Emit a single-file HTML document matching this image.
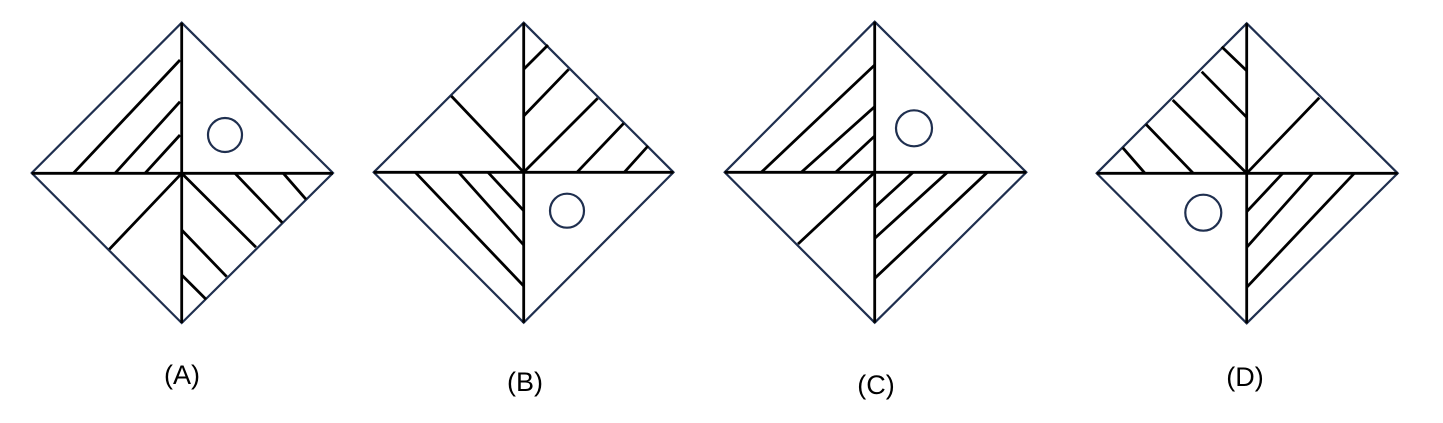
<!DOCTYPE html>
<html><head><style>html,body{margin:0;padding:0;background:#fff;}svg{display:block}</style></head><body>
<svg width="1443" height="423" viewBox="0 0 1443 423" xmlns="http://www.w3.org/2000/svg">
<g fill="none" stroke="#1f2f4f" stroke-width="2.2">
<polygon points="181.7,22.7 333,173 181.7,323 31.7,173"/>
<polygon points="523.7,22.7 673.5,172.3 523.7,322.7 373.7,172.3"/>
<polygon points="874.7,21.7 1026.3,172.3 874.7,322.7 724.7,172.3"/>
<polygon points="1246.7,23.3 1397.7,173.3 1246.7,323.3 1096.7,173.3"/>
<circle cx="225" cy="135" r="17"/>
<circle cx="567" cy="210.7" r="17"/>
<circle cx="914" cy="128.3" r="18"/>
<circle cx="1203.3" cy="212.7" r="18"/>
</g>
<g stroke="#000" stroke-width="2.8" fill="none">
<line x1="181.7" y1="22.7" x2="181.7" y2="323"/><line x1="31.7" y1="173.3" x2="333" y2="173.3"/>
<line x1="73.3" y1="173.3" x2="180" y2="60"/>
<line x1="115" y1="173.3" x2="180" y2="101.7"/>
<line x1="145" y1="173.3" x2="180" y2="135"/>
<line x1="181.7" y1="173.3" x2="109.3" y2="249.3"/>
<line x1="181.7" y1="173.3" x2="256" y2="247.3"/>
<line x1="235" y1="173.3" x2="282.3" y2="222.7"/>
<line x1="283.3" y1="173.3" x2="306" y2="199.3"/>
<line x1="181.7" y1="230" x2="226.7" y2="276.7"/>
<line x1="181.7" y1="275" x2="206" y2="299.3"/>
<line x1="523.7" y1="22.7" x2="523.7" y2="322.7"/><line x1="373.7" y1="172.3" x2="673.5" y2="172.3"/>
<line x1="451.3" y1="96" x2="523.7" y2="172.3"/>
<line x1="523.7" y1="172.3" x2="597.7" y2="98.3"/>
<line x1="523.7" y1="69.3" x2="548" y2="45"/>
<line x1="523.7" y1="116" x2="568.7" y2="69.3"/>
<line x1="577" y1="172.3" x2="623.7" y2="123.3"/>
<line x1="624.3" y1="172.3" x2="648" y2="146"/>
<line x1="415.3" y1="172.3" x2="523.7" y2="286"/>
<line x1="458.7" y1="172.3" x2="523.7" y2="245"/>
<line x1="488" y1="172.3" x2="523.7" y2="210.7"/>
<line x1="874.7" y1="21.7" x2="874.7" y2="322.7"/><line x1="724.7" y1="172.3" x2="1026.3" y2="172.3"/>
<line x1="761.3" y1="172.3" x2="874.7" y2="65"/>
<line x1="801.3" y1="172.3" x2="874.7" y2="106.7"/>
<line x1="835.7" y1="172.3" x2="874.7" y2="136"/>
<line x1="874.7" y1="172.3" x2="798" y2="244"/>
<line x1="913" y1="172.3" x2="874.7" y2="207.3"/>
<line x1="947.3" y1="172.3" x2="874.7" y2="238.3"/>
<line x1="987.3" y1="172.3" x2="874.7" y2="278.3"/>
<line x1="1246.7" y1="23.3" x2="1246.7" y2="323.3"/><line x1="1096.7" y1="173.3" x2="1397.7" y2="173.3"/>
<line x1="1221.7" y1="46.7" x2="1246.7" y2="70.7"/>
<line x1="1201.7" y1="71.7" x2="1246.7" y2="117.3"/>
<line x1="1172.7" y1="100" x2="1246.7" y2="173.3"/>
<line x1="1146" y1="124.3" x2="1193.3" y2="173.3"/>
<line x1="1122.7" y1="147.7" x2="1145" y2="173.3"/>
<line x1="1246.7" y1="173.3" x2="1319.3" y2="97.7"/>
<line x1="1282.7" y1="173.3" x2="1246.7" y2="211.7"/>
<line x1="1312.7" y1="173.3" x2="1246.7" y2="247.3"/>
<line x1="1354.3" y1="173.3" x2="1246.7" y2="287.3"/>
</g>
<g font-family="Liberation Sans, sans-serif" font-size="27" fill="#000" text-anchor="middle">
<text x="182" y="384">(A)</text>
<text x="525" y="391">(B)</text>
<text x="876" y="394">(C)</text>
<text x="1245" y="386">(D)</text>
</g>
</svg>
</body></html>
